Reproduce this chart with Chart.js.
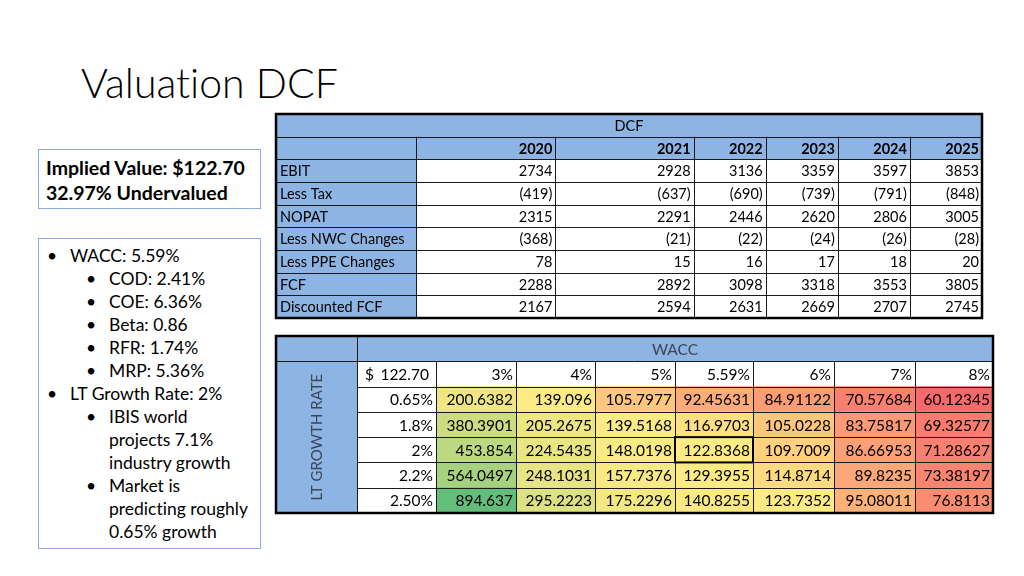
<!DOCTYPE html>
<html>
<head>
<meta charset="utf-8">
<title>Valuation DCF</title>
<script src="https://cdn.jsdelivr.net/npm/chart.js@4.4.0/dist/chart.umd.min.js"></script>
<style>
  body { margin: 0; width: 1024px; height: 576px; background: #fff; position: relative; overflow: hidden;
         font-family: Lato, "Noto Sans", sans-serif; color: #000; font-variant-ligatures: none; }
  h1 { position: absolute; left: 81px; top: 62px; margin: 0; font-size: 41px; line-height: 41px; font-weight: 300; }
  .box { position: absolute; border: 1px solid #8eaadb; box-sizing: border-box; }
  #implied { left: 38px; top: 149px; width: 223px; height: 60px; padding: 5px 0 0 7px;
             font-weight: bold; font-size: 19.5px; line-height: 25px; }
  #notes { left: 38px; top: 238px; width: 223px; height: 311px; padding-top: 5px; font-size: 17.5px; line-height: 23px; }
  .li { position: relative; }
  .li .b { position: absolute; }
  .l1 { padding-left: 31px; }
  .l1 .b { left: 8px; }
  .l2 { padding-left: 70px; }
  .l2 .b { left: 47px; }
  .wrap { position: absolute; }
  #dcfWrap { left: 274px; top: 112px; width: 710px; height: 208px; }
  #sensWrap { left: 274px; top: 334px; width: 721px; height: 181px; }
</style>
</head>
<body>
<h1>Valuation DCF</h1>

<div class="box" id="implied">Implied Value: $122.70<br>32.97% Undervalued</div>

<div class="box" id="notes">
  <div class="li l1"><span class="b">•</span>WACC: 5.59%</div>
  <div class="li l2"><span class="b">•</span>COD: 2.41%</div>
  <div class="li l2"><span class="b">•</span>COE: 6.36%</div>
  <div class="li l2"><span class="b">•</span>Beta: 0.86</div>
  <div class="li l2"><span class="b">•</span>RFR: 1.74%</div>
  <div class="li l2"><span class="b">•</span>MRP: 5.36%</div>
  <div class="li l1"><span class="b">•</span>LT Growth Rate: 2%</div>
  <div class="li l2"><span class="b">•</span>IBIS world<br>projects 7.1%<br>industry growth</div>
  <div class="li l2"><span class="b">•</span>Market is<br>predicting roughly<br>0.65% growth</div>
</div>

<div class="wrap" id="dcfWrap"><canvas id="dcfChart"></canvas></div>
<div class="wrap" id="sensWrap"><canvas id="sensChart"></canvas></div>

<script>
// DCF data
const dcfYears = ["2020", "2021", "2022", "2023", "2024", "2025"];
const dcfRows = ["EBIT", "Less Tax", "NOPAT", "Less NWC Changes", "Less PPE Changes", "FCF", "Discounted FCF"];
const ebit = [2734, 2928, 3136, 3359, 3597, 3853];
const lessTax = [-419, -637, -690, -739, -791, -848];
const nopat = [2315, 2291, 2446, 2620, 2806, 3005];
const lessNwc = [-368, -21, -22, -24, -26, -28];
const lessPpe = [78, 15, 16, 17, 18, 20];
const fcf = [2288, 2892, 3098, 3318, 3553, 3805];
const discountedFcf = [2167, 2594, 2631, 2669, 2707, 2745];

// Sensitivity data (share value by WACC and long term growth)
const impliedPrice = 122.70;
const waccRates = ["3%", "4%", "5%", "5.59%", "6%", "7%", "8%"];
const growthRates = ["0.65%", "1.8%", "2%", "2.2%", "2.50%"];
const growth065 = [200.6382, 139.096, 105.7977, 92.45631, 84.91122, 70.57684, 60.12345];
const growth18 = [380.3901, 205.2675, 139.5168, 116.9703, 105.0228, 83.75817, 69.32577];
const growth2 = [453.854, 224.5435, 148.0198, 122.8368, 109.7009, 86.66953, 71.28627];
const growth22 = [564.0497, 248.1031, 157.7376, 129.3955, 114.8714, 89.8235, 73.38197];
const growth25 = [894.637, 295.2223, 175.2296, 140.8255, 123.7352, 95.08011, 76.8113];
const selectedGrowth = 2; // "2%"
const selectedWacc = 3;   // "5.59%"

// layout
const BLUE = "#8db4e2";
const LINE = "#1a1a1a";
const FONT = "Lato, 'Noto Sans', sans-serif";
const dcfColWidths = [140, 139, 138, 72, 72, 72, 72];
const sensColWidths = [81, 79, 80, 79, 80, 78, 81, 81, 78];

const edgesOf = widths => widths.reduce((a, w) => { a.push(a[a.length - 1] + w); return a; }, [0]);
const acct = v => v < 0 ? "(" + Math.abs(v) + ")" : String(v);
const rowEdge = (chart, r) => chart.scales.y.getPixelForValue(r - 0.5);
const colEdge = (chart, edges, c) => chart.scales.x.getPixelForValue(edges[c]);

// Excel style 3 colour scale: min red, median yellow, max green
const sensValues = [growth065, growth18, growth2, growth22, growth25];
const allVals = sensValues.flat().slice().sort((a, b) => a - b);
const vMin = allVals[0], vMax = allVals[allVals.length - 1];
const vMid = allVals[Math.floor(allVals.length / 2)];
function mix(c1, c2, t) {
  const r = Math.round(c1[0] + (c2[0] - c1[0]) * t);
  const g = Math.round(c1[1] + (c2[1] - c1[1]) * t);
  const b = Math.round(c1[2] + (c2[2] - c1[2]) * t);
  return `rgb(${r},${g},${b})`;
}
function heatColor(v) {
  const red = [248, 105, 107], yellow = [255, 235, 132], green = [99, 190, 123];
  if (v <= vMid) return mix(red, yellow, (v - vMin) / (vMid - vMin));
  return mix(yellow, green, (v - vMid) / (vMax - vMid));
}

// grid lines, cell texts (dataset.texts) and the outer frame
const tablePlugin = {
  id: "tableCells",
  afterDatasetsDraw(chart) {
    const ctx = chart.ctx;
    const area = chart.chartArea;
    const cfg = chart.options.plugins.tableCells;

    ctx.save();
    ctx.strokeStyle = LINE;
    ctx.lineWidth = 1;
    ctx.beginPath();
    cfg.hLines.forEach(([r, c0, c1]) => {
      const py = Math.round(rowEdge(chart, r)) + 0.5;
      ctx.moveTo(colEdge(chart, cfg.edges, c0), py);
      ctx.lineTo(colEdge(chart, cfg.edges, c1), py);
    });
    cfg.vLines.forEach(([c, r0, r1]) => {
      const px = Math.round(colEdge(chart, cfg.edges, c)) + 0.5;
      ctx.moveTo(px, rowEdge(chart, r0));
      ctx.lineTo(px, rowEdge(chart, r1));
    });
    ctx.stroke();

    chart.data.datasets.forEach((ds, di) => {
      const meta = chart.getDatasetMeta(di);
      meta.data.forEach((bar, i) => {
        const t = ds.texts[i];
        if (t == null || t === "") return;
        const p = bar.getProps(["x", "y", "base"], true);
        const left = Math.min(p.x, p.base), right = Math.max(p.x, p.base);
        const st = ds.textStyle[i];
        ctx.font = st.font;
        ctx.fillStyle = st.color || "#000";
        ctx.textBaseline = "middle";
        if (st.align === "left") { ctx.textAlign = "left"; ctx.fillText(t, left + 4, p.y + 1); }
        else if (st.align === "center") { ctx.textAlign = "center"; ctx.fillText(t, (left + right) / 2, p.y + 1); }
        else if (st.align === "dollar") {
          ctx.textAlign = "left"; ctx.fillText("$", left + 8, p.y + 1);
          ctx.textAlign = "right"; ctx.fillText(t, right - 7, p.y + 1);
        }
        else { ctx.textAlign = "right"; ctx.fillText(t, right - 3, p.y + 1); }
      });
    });

    ctx.lineWidth = 2.5;
    ctx.strokeStyle = "#000";
    ctx.strokeRect(area.left, area.top, area.right - area.left, area.bottom - area.top);
    ctx.restore();
  }
};

function tableOptions(edges, cellCfg) {
  return {
    indexAxis: "y",
    responsive: true,
    maintainAspectRatio: false,
    animation: false,
    layout: { padding: 2 },
    datasets: { bar: { grouped: false, barPercentage: 1, categoryPercentage: 1, borderWidth: 0 } },
    scales: {
      x: { type: "linear", min: 0, max: edges[edges.length - 1], display: false },
      y: { type: "category", display: false, offset: true }
    },
    plugins: { legend: { display: false }, tooltip: { enabled: false }, tableCells: cellCfg }
  };
}

// DCF table
const dcfEdges = edgesOf(dcfColWidths);
const dcfTotal = dcfEdges[dcfEdges.length - 1];
const dcfLabels = ["DCF", "Year", ...dcfRows];
const dcfValues = [ebit, lessTax, nopat, lessNwc, lessPpe, fcf, discountedFcf];

const dcfDatasets = dcfColWidths.map((w, c) => ({
  label: c === 0 ? "Item" : dcfYears[c - 1],
  data: dcfLabels.map((_, r) => r === 0 ? (c === 0 ? [0, dcfTotal] : null) : [dcfEdges[c], dcfEdges[c + 1]]),
  backgroundColor: dcfLabels.map((_, r) => (r < 2 || c === 0) ? BLUE : "#ffffff"),
  texts: dcfLabels.map((name, r) => {
    if (r === 0) return c === 0 ? "DCF" : null;
    if (r === 1) return c === 0 ? "" : dcfYears[c - 1];
    if (c === 0) return name;
    return acct(dcfValues[r - 2][c - 1]);
  }),
  textStyle: dcfLabels.map((_, r) => ({
    font: (r === 1 ? "bold " : "") + "14.5px " + FONT,
    align: r === 0 ? "center" : (c === 0 ? "left" : "right")
  }))
}));

new Chart(document.getElementById("dcfChart"), {
  type: "bar",
  data: { labels: dcfLabels, datasets: dcfDatasets },
  options: tableOptions(dcfEdges, {
    edges: dcfEdges,
    hLines: dcfLabels.slice(1).map((_, i) => [i + 1, 0, dcfColWidths.length]),
    vLines: dcfColWidths.slice(1).map((_, i) => [i + 1, 1, dcfLabels.length])
  }),
  plugins: [tablePlugin]
});

// Sensitivity table
const sensEdges = edgesOf(sensColWidths);
const sensTotal = sensEdges[sensEdges.length - 1];
const sensLabels = ["WACC", "Rates", ...growthRates];

const sensDatasets = sensColWidths.map((w, c) => ({
  label: c < 2 ? "Header" : waccRates[c - 2],
  data: sensLabels.map((_, r) => {
    if (r === 0) return c === 0 ? [0, sensEdges[1]] : (c === 1 ? [sensEdges[1], sensTotal] : null);
    return [sensEdges[c], sensEdges[c + 1]];
  }),
  backgroundColor: sensLabels.map((_, r) => {
    if (r === 0 || c === 0) return BLUE;
    if (r === 1 || c === 1) return "#ffffff";
    return heatColor(sensValues[r - 2][c - 2]);
  }),
  texts: sensLabels.map((_, r) => {
    if (c === 0) return null;
    if (r === 0) return c === 1 ? "WACC" : null;
    if (r === 1) return c === 1 ? impliedPrice.toFixed(2) : waccRates[c - 2];
    if (c === 1) return growthRates[r - 2];
    return String(sensValues[r - 2][c - 2]);
  }),
  textStyle: sensLabels.map((_, r) => ({
    font: "15.5px " + FONT,
    color: r === 0 ? "#3b4656" : "#000",
    align: r === 0 ? "center" : (r === 1 && c === 1 ? "dollar" : "right")
  }))
}));

// side title and the highlighted base case cell
const sensExtras = {
  id: "sensExtras",
  afterDatasetsDraw(chart) {
    const ctx = chart.ctx;
    const e = sensEdges;
    ctx.save();
    ctx.translate((colEdge(chart, e, 0) + colEdge(chart, e, 1)) / 2 + 1,
                  (rowEdge(chart, 1) + rowEdge(chart, sensLabels.length)) / 2);
    ctx.rotate(-Math.PI / 2);
    ctx.font = "15px " + FONT;
    ctx.fillStyle = "#3b4656";
    ctx.textAlign = "center";
    ctx.textBaseline = "middle";
    ctx.fillText("LT GROWTH RATE", 0, 0);
    ctx.restore();

    const c = selectedWacc + 2, r = selectedGrowth + 2;
    const x0 = colEdge(chart, e, c), x1 = colEdge(chart, e, c + 1);
    const y0 = rowEdge(chart, r), y1 = rowEdge(chart, r + 1);
    ctx.save();
    ctx.lineWidth = 2;
    ctx.strokeStyle = "#000";
    ctx.strokeRect(x0, y0, x1 - x0, y1 - y0);
    ctx.restore();
  }
};

new Chart(document.getElementById("sensChart"), {
  type: "bar",
  data: { labels: sensLabels, datasets: sensDatasets },
  options: tableOptions(sensEdges, {
    edges: sensEdges,
    hLines: [[1, 0, sensColWidths.length]].concat(growthRates.map((_, i) => [i + 2, 1, sensColWidths.length])),
    vLines: [[1, 0, sensLabels.length]].concat(sensColWidths.slice(2).map((_, i) => [i + 2, 1, sensLabels.length]))
  }),
  plugins: [tablePlugin, sensExtras]
});
</script>
</body>
</html>
